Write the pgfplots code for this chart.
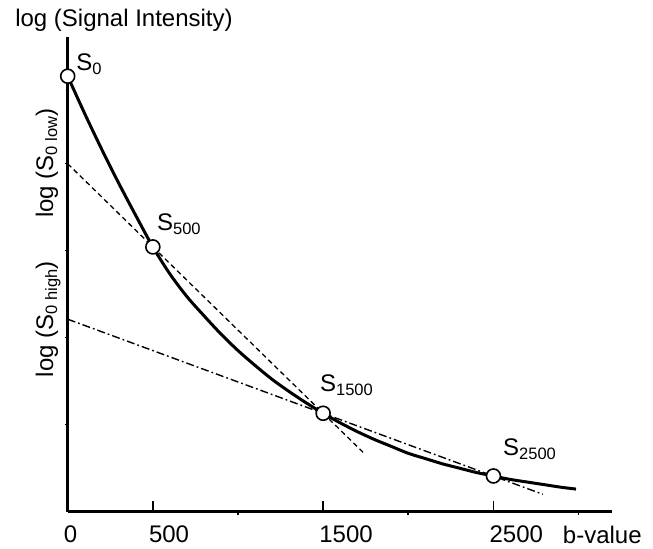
\documentclass[border=0pt]{standalone}
\usepackage{fontspec}
\setmainfont{Liberation Sans}
\usepackage{pgfplots}
\pgfplotsset{compat=1.18}
\newcommand\bigf{\fontsize{24}{29}\selectfont}
\newcommand\sub[1]{\raisebox{-4pt}{\fontsize{16.5}{19}\selectfont #1}}
\begin{document}
\begin{tikzpicture}
\begin{axis}[x=0.1703pt,y=87.1pt,xmin=0,xmax=3196,ymin=0,ymax=5.45,
  axis lines=left,axis line style={-,line width=2.5pt},clip=false,
  tick style={black,line width=1.6pt},tick align=outside,major tick length=3pt,
  xtick={1000,2000,3000},xticklabels={},
  extra x ticks={0,500,1500,2500},extra x tick labels={0,500,1500,2500},
  extra x tick style={tick align=inside,major tick length=11pt},
  ytick={1,2,3,4,5},yticklabels={},
  xticklabel style={font=\bigf,anchor=base west,inner sep=0pt,xshift=-4pt,yshift=-31pt},
  /pgf/number format/assume math mode=true]
\path (axis cs:-397.5,-0.4168) rectangle (axis cs:3437,5.875);
% measured curve
\addplot[black,line width=3pt,smooth,tension=0.5] coordinates {
(0,5.00) (100,4.57) (200,4.16) (300,3.77) (400,3.40) (500,3.04) (600,2.73)
(700,2.47) (800,2.25) (900,2.04) (1000,1.85) (1100,1.68) (1200,1.52)
(1300,1.38) (1400,1.25) (1500,1.13) (1600,1.02) (1700,0.92) (1800,0.83)
(1900,0.75) (2000,0.67) (2100,0.61) (2200,0.55) (2300,0.50) (2400,0.45)
(2500,0.41) (2600,0.37) (2700,0.34) (2800,0.31) (2900,0.28) (2985,0.26)};
% low-b fit
\addplot[black,line width=1.3pt,dash pattern=on 5pt off 3.5pt] coordinates {(0,3.995) (1745,0.662)};
% high-b fit
\addplot[black,line width=1.4pt,dash pattern=on 8pt off 3pt on 1.8pt off 3pt] coordinates {(0,2.21) (2790,0.20)};
\addplot[only marks,mark=*,mark size=7pt,mark options={fill=white,draw=black,line width=1.6pt}] coordinates {
(0,5.00) (500,3.04) (1500,1.13) (2500,0.41)};
\node[font=\bigf,anchor=base west,inner sep=0pt] at (axis cs:50,5.07) {S\sub{0}};
\node[font=\bigf,anchor=base west,inner sep=0pt] at (axis cs:524,3.23) {S\sub{500}};
\node[font=\bigf,anchor=base west,inner sep=0pt] at (axis cs:1481,1.38) {S\sub{1500}};
\node[font=\bigf,anchor=base west,inner sep=0pt] at (axis cs:2556,0.64) {S\sub{2500}};
\node[font=\bigf,anchor=base west,inner sep=0pt] at (axis cs:-309,5.565) {log (Signal Intensity)};
\node[font=\bigf,anchor=base west,inner sep=0pt] at (axis cs:2907,-0.36) {b-value};
\node[font=\bigf,rotate=90,anchor=base,inner sep=0pt] at (axis cs:-86,4) {log (S\sub{0 low})};
\node[font=\bigf,rotate=90,anchor=base,inner sep=0pt] at (axis cs:-86,2.21) {log (S\sub{0 high})};
\end{axis}
\end{tikzpicture}
\end{document}
